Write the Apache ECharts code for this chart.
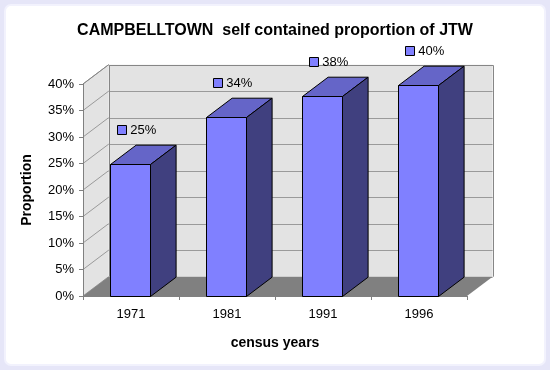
<!DOCTYPE html>
<html><head><meta charset="utf-8">
<script src="https://cdn.jsdelivr.net/npm/echarts@6/dist/echarts.min.js"></script>
<style>html,body{margin:0;padding:0;background:#e6e6f8;}#c{width:550px;height:370px;}</style>
</head><body><div id="c"></div>
<script>
// ---- data ----
const categories = ['1971', '1981', '1991', '1996'];
const proportionValues = [24.9, 33.7, 37.8, 39.8];
const yTickValues = [0, 5, 10, 15, 20, 25, 30, 35, 40];
const yTickLabels = ['0%', '5%', '10%', '15%', '20%', '25%', '30%', '35%', '40%'];
const titleText = 'CAMPBELLTOWN  self contained proportion of JTW';
const xAxisTitle = 'census years';
const yAxisTitle = 'Proportion';

// ---- style ----
const FONT = 'Liberation Sans, Arial, sans-serif';
const DX = 25.6, DY = 19.3;
const BAR_RATIO = 0.415;
const WALL = '#e3e3e3', FLOOR = '#808080', GRID = '#9a9a9a', EDGE = '#868686';
const FRONT = '#8080ff', TOP = '#6565c8', SIDE = '#40407f';

const crisp = v => Math.round(v) + 0.5;

function renderFrame(params, api) {
  const cs = params.coordSys;
  const gx = cs.x, gw = cs.width;
  const yOf = t => api.coord([0, t])[1];
  const y0 = yOf(yTickValues[0]);
  const yT = yOf(yTickValues[yTickValues.length - 1]);
  const ch = [];
  ch.push({type: 'polygon', shape: {points: [[gx, y0], [gx, yT], [gx + DX, yT - DY], [gx + DX, y0 - DY]]}, style: {fill: WALL}});
  ch.push({type: 'rect', shape: {x: gx + DX, y: yT - DY, width: gw, height: y0 - yT}, style: {fill: WALL}});
  yTickValues.forEach(t => {
    const y = yOf(t);
    ch.push({type: 'line', shape: {x1: gx + DX, y1: crisp(y - DY), x2: gx + DX + gw, y2: crisp(y - DY)}, style: {stroke: GRID, lineWidth: 1}});
    ch.push({type: 'line', shape: {x1: gx, y1: y, x2: gx + DX, y2: y - DY}, style: {stroke: GRID, lineWidth: 1}});
  });
  // back wall edges
  ch.push({type: 'polyline', shape: {points: [[crisp(gx + DX), y0 - DY], [crisp(gx + DX), crisp(yT - DY)], [crisp(gx + DX + gw), crisp(yT - DY)], [crisp(gx + DX + gw), y0 - DY]]}, style: {stroke: EDGE, fill: null, lineWidth: 1}});
  ch.push({type: 'line', shape: {x1: gx, y1: yT, x2: gx + DX, y2: yT - DY}, style: {stroke: EDGE, lineWidth: 1}});
  // floor
  ch.push({type: 'polygon', shape: {points: [[gx, y0], [gx + gw, y0], [gx + gw + DX, y0 - DY], [gx + DX, y0 - DY]]}, style: {fill: FLOOR}});
  return {type: 'group', children: ch};
}

function renderBar(params, api) {
  const i = api.value(0), v = api.value(1);
  const top = api.coord([i, v]);
  const base = api.coord([i, 0]);
  const band = api.size([1, 0])[0];
  const w = Math.round(band * BAR_RATIO);
  const x0 = crisp(top[0] - w / 2 - 1), x1 = x0 + w;
  const yt = crisp(top[1]), yb = crisp(base[1]);
  const st = {stroke: '#000', lineWidth: 1, lineJoin: 'miter'};
  const lbl = Math.round(v) + '%';
  const lcx = (x0 + x1) / 2 + DX / 2 - 6;
  const lcy = yt - DY - 15;
  return {type: 'group', children: [
    {type: 'rect', shape: {x: x0, y: yt, width: w, height: yb - yt}, style: Object.assign({fill: FRONT}, st)},
    {type: 'polygon', shape: {points: [[x0, yt], [x1, yt], [x1 + DX, yt - DY], [x0 + DX, yt - DY]]}, style: Object.assign({fill: TOP}, st)},
    {type: 'polygon', shape: {points: [[x1, yt], [x1 + DX, yt - DY], [x1 + DX, yb - DY], [x1, yb]]}, style: Object.assign({fill: SIDE}, st)},
    {type: 'rect', shape: {x: crisp(lcx - 20), y: crisp(lcy - 5), width: 9, height: 9}, style: Object.assign({fill: FRONT}, st)},
    {type: 'text', style: {x: lcx - 7, y: lcy + 0.5, text: lbl, fill: '#000', font: '13px ' + FONT, align: 'left', verticalAlign: 'middle'}}
  ]};
}

const chart = echarts.init(document.getElementById('c'), null, {renderer: 'canvas'});
chart.setOption({
  backgroundColor: '#e6e6f8',
  animation: false,
  graphic: [{type: 'rect', z: -10, silent: true, shape: {x: 5, y: 5, width: 540, height: 360, r: 6}, style: {fill: '#ffffff', stroke: '#f2f2fd', lineWidth: 2}}],
  title: {text: titleText, left: 'center', top: 23, padding: 0, textStyle: {fontFamily: FONT, fontSize: 16, fontWeight: 'bold', color: '#000'}},
  grid: {left: 83, top: 84, width: 384, height: 212},
  xAxis: {
    type: 'category', data: categories, z: 3,
    name: xAxisTitle, nameLocation: 'middle', nameGap: 40,
    nameTextStyle: {fontFamily: FONT, fontSize: 14, fontWeight: 'bold', color: '#000'},
    axisLine: {lineStyle: {color: '#808080', width: 1}},
    axisTick: {show: true, length: 4, lineStyle: {color: '#808080'}},
    axisLabel: {margin: 12, color: '#000', fontFamily: FONT, fontSize: 13},
    splitLine: {show: false}
  },
  yAxis: {
    type: 'value', min: 0, max: 40, interval: 5, z: 3,
    name: yAxisTitle, nameLocation: 'middle', nameGap: 49, nameRotate: 90,
    nameTextStyle: {fontFamily: FONT, fontSize: 14, fontWeight: 'bold', color: '#000'},
    axisLine: {show: true, lineStyle: {color: '#808080', width: 1}},
    axisTick: {show: true, length: 4, lineStyle: {color: '#808080'}},
    axisLabel: {margin: 9, color: '#000', fontFamily: FONT, fontSize: 13,
      formatter: v => yTickLabels[yTickValues.indexOf(v)]},
    splitLine: {show: false}
  },
  series: [
    {type: 'custom', name: 'frame', z: 1, silent: true, renderItem: renderFrame, data: [[0, 0]]},
    {type: 'custom', name: 'Proportion', z: 4, renderItem: renderBar,
      encode: {x: 0, y: 1},
      data: categories.map((c, i) => [i, proportionValues[i]])}
  ]
});
</script></body></html>
